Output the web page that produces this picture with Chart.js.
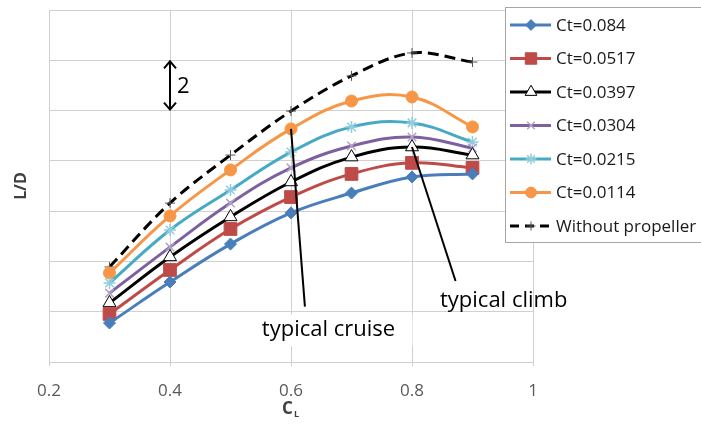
<!DOCTYPE html>
<html>
<head>
<meta charset="utf-8">
<script src="https://cdn.jsdelivr.net/npm/chart.js@4.4.1/dist/chart.umd.min.js"></script>
<style>
	html, body { margin: 0; padding: 0; background: #ffffff; }
	#wrap { width: 701px; height: 428px; }
</style>
</head>
<body>
<div id="wrap"><canvas id="chart" width="701" height="428"></canvas></div>
<script>

// lift coefficient (x)
const cl = [0.3, 0.4, 0.5, 0.6, 0.7, 0.8, 0.9];

// L/D, one grid step = 2
const ct084 = [1.55, 3.18, 4.69, 5.93, 6.72, 7.36, 7.48];
const ct0517 = [1.91, 3.66, 5.29, 6.56, 7.48, 7.92, 7.72];
const ct0397 = [2.35, 4.18, 5.77, 7.16, 8.15, 8.55, 8.23];
const ct0304 = [2.74, 4.57, 6.32, 7.72, 8.59, 8.95, 8.51];
const ct0215 = [3.14, 5.25, 6.84, 8.35, 9.35, 9.51, 8.75];
const ct0114 = [3.54, 5.81, 7.64, 9.27, 10.38, 10.54, 9.35];
const noProp = [3.78, 6.32, 8.23, 9.98, 11.38, 12.29, 11.93];

const labels = ['Ct=0.084', 'Ct=0.0517', 'Ct=0.0397', 'Ct=0.0304', 'Ct=0.0215', 'Ct=0.0114', 'Without propeller'];
const xTicks = [0.2, 0.4, 0.6, 0.8, 1];

const font = "'Open Sans', 'DejaVu Sans', sans-serif";


function points(values) {
	return values.map(function(v, i) {
		return {x: cl[i], y: v};
	});
}


function series(label, values, color, style) {
	return Object.assign({
		label: label,
		data: points(values),
		borderColor: color,
		backgroundColor: color,
		pointBorderColor: color,
		pointBackgroundColor: color,
		borderWidth: 3,
		tension: 0.4,
		pointRadius: 6,
		pointBorderWidth: 1,
		pointHoverRadius: 6
	}, style);
}


const datasets = [
	series(labels[0], ct084, '#4a7ebb', {pointStyle: 'rectRot', pointRadius: 6}),
	series(labels[1], ct0517, '#be4b48', {pointStyle: 'rect', pointRadius: 9}),
	series(labels[2], ct0397, '#000000', {pointStyle: 'triangle', pointRadius: 7.5, pointBackgroundColor: '#ffffff', pointBorderColor: '#000000', pointBorderWidth: 1}),
	series(labels[3], ct0304, '#7d60a0', {pointStyle: 'crossRot', pointRadius: 6, pointBorderColor: '#b3a2c7', pointBorderWidth: 1.5}),
	series(labels[4], ct0215, '#46aac5', {pointStyle: 'star', pointRadius: 6, pointBorderColor: '#93cddd', pointBorderWidth: 1.5}),
	series(labels[5], ct0114, '#f79646', {pointStyle: 'circle', pointRadius: 6}),
	series(labels[6], noProp, '#000000', {pointStyle: 'cross', pointRadius: 5, pointBorderWidth: 1, borderDash: [11, 6], tension: 0.35, pointBorderColor: '#555555'})
];


// legend box drawn by hand, to look like the Excel one
const legendBox = {
	id: 'legendBox',
	afterDraw(chart) {
		const ctx = chart.ctx;
		const left = 505, top = 7, rowH = 33.5;

		ctx.save();
		ctx.fillStyle = '#ffffff';
		ctx.strokeStyle = '#a6a6a6';
		ctx.lineWidth = 1;
		ctx.fillRect(left, top, 210, 235);
		ctx.strokeRect(left + 0.5, top + 0.5, 210, 235);

		chart.data.datasets.forEach(function(ds, i) {
			const y = top + 18 + i * rowH;

			ctx.save();
			ctx.strokeStyle = ds.borderColor;
			ctx.lineWidth = ds.borderWidth;
			ctx.setLineDash(ds.borderDash ? [9, 6] : []);
			ctx.beginPath();
			ctx.moveTo(510, y);
			ctx.lineTo(551, y);
			ctx.stroke();
			ctx.restore();

			ctx.save();
			ctx.fillStyle = ds.pointBackgroundColor;
			ctx.strokeStyle = ds.pointBorderColor;
			ctx.lineWidth = ds.pointBorderWidth;
			Chart.helpers.drawPoint(ctx, {
				pointStyle: ds.pointStyle,
				radius: ds.pointRadius * 0.9,
				rotation: 0,
				borderWidth: ds.pointBorderWidth
			}, 531, y);
			ctx.restore();

			ctx.fillStyle = '#1a1a1a';
			ctx.font = '17px ' + font;
			ctx.textBaseline = 'middle';
			ctx.textAlign = 'left';
			ctx.fillText(ds.label, 556, y + 1);
		});
		ctx.restore();
	}
};


// annotations: "2" arrow, typical cruise, typical climb, axis titles
const notes = {
	id: 'notes',
	afterDatasetsDraw(chart) {
		const ctx = chart.ctx;
		const sx = chart.scales.x, sy = chart.scales.y;

		ctx.save();

		// double arrow spanning one grid step
		const ax = sx.getPixelForValue(0.4);
		const a1 = sy.getPixelForValue(12), a2 = sy.getPixelForValue(10);
		ctx.strokeStyle = '#000000';
		ctx.lineWidth = 2;
		ctx.beginPath();
		ctx.moveTo(ax, a1 + 1);
		ctx.lineTo(ax, a2 - 1);
		ctx.moveTo(ax - 6, a1 + 8);
		ctx.lineTo(ax, a1 + 1);
		ctx.lineTo(ax + 6, a1 + 8);
		ctx.moveTo(ax - 6, a2 - 8);
		ctx.lineTo(ax, a2 - 1);
		ctx.lineTo(ax + 6, a2 - 8);
		ctx.stroke();
		ctx.fillStyle = '#000000';
		ctx.font = '22px ' + font;
		ctx.textAlign = 'left';
		ctx.textBaseline = 'middle';
		ctx.fillText('2', ax + 7, (a1 + a2) / 2 + 1);

		// typical cruise
		ctx.lineWidth = 2;
		ctx.beginPath();
		ctx.moveTo(sx.getPixelForValue(0.6), sy.getPixelForValue(ct0114[3]));
		ctx.lineTo(sx.getPixelForValue(0.623), sy.getPixelForValue(2.2));
		ctx.stroke();

		ctx.font = '22px ' + font;
		ctx.textAlign = 'center';
		const cx = sx.getPixelForValue(0.662), cy = sy.getPixelForValue(1.3);
		ctx.fillStyle = '#ffffff';
		ctx.fillRect(cx - 70, cy - 15, 154, 32);
		ctx.fillStyle = '#000000';
		ctx.fillText('typical cruise', cx, cy);

		// typical climb
		ctx.beginPath();
		ctx.moveTo(sx.getPixelForValue(0.8), sy.getPixelForValue(ct0397[5]));
		ctx.lineTo(sx.getPixelForValue(0.872), sy.getPixelForValue(3.22));
		ctx.stroke();
		ctx.fillText('typical climb', sx.getPixelForValue(0.9515), sy.getPixelForValue(2.45));

		// axis titles
		ctx.font = 'bold 16px ' + font;
		ctx.fillStyle = '#404040';
		ctx.save();
		ctx.translate(21, (sy.top + sy.bottom) / 2);
		ctx.rotate(-Math.PI / 2);
		ctx.textAlign = 'center';
		ctx.fillText('L/D', 0, 0);
		ctx.restore();

		const tx = (sx.left + sx.right) / 2;
		ctx.textAlign = 'left';
		ctx.font = 'bold 17px ' + font;
		ctx.fillText('C', tx - 9, 409);
		ctx.font = 'bold 9px ' + font;
		ctx.fillText('L', tx + 3, 414);

		ctx.restore();
	}
};


const config = {
	type: 'line',
	data: {datasets: datasets},
	options: {
		responsive: false,
		animation: false,
		events: [],
		layout: {padding: {left: 0, right: 168, top: 10, bottom: 0}},
		plugins: {
			legend: {display: false},
			tooltip: {enabled: false}
		},
		scales: {
			x: {
				type: 'linear',
				min: 0.2,
				max: 1,
				afterFit: (s) => { s.height = 66; },
				afterBuildTicks: (s) => { s.ticks = xTicks.map(v => ({value: v})); },
				grid: {color: '#d0d0d0', lineWidth: 1, tickLength: 4, drawTicks: true},
				border: {color: '#d0d0d0'},
				ticks: {
					color: '#595959',
					padding: 15,
					maxRotation: 0,
					font: {family: font, size: 17},
					callback: (v) => String(+v.toFixed(1))
				}
			},
			y: {
				min: 0,
				max: 14,
				afterFit: (s) => { s.width = 49; },
				grid: {color: '#d0d0d0', lineWidth: 1, drawTicks: false},
				border: {color: '#d0d0d0'},
				ticks: {display: false, stepSize: 2}
			}
		}
	},
	plugins: [notes, legendBox]
};

new Chart(document.getElementById('chart').getContext('2d'), config);

</script>
</body>
</html>
